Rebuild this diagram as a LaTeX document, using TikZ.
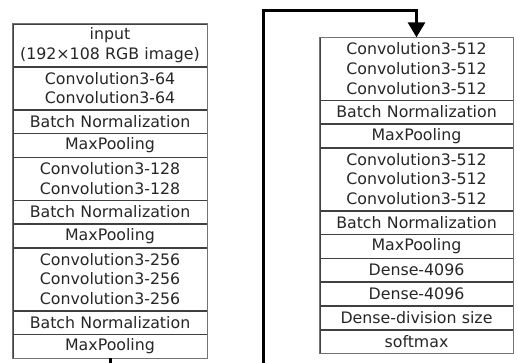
\documentclass[tikz,border=0pt]{standalone}
\usepackage{fontspec}
\setmainfont{DejaVu Sans}
\usetikzlibrary{arrows.meta}
\begin{document}
\begin{tikzpicture}[x=1pt,y=-1pt,
  layer/.style={draw=black!75, line width=0.6pt, inner sep=0pt, anchor=north, align=center,
    font=\fontsize{15.8}{19.6}\selectfont, text=black!85},
  lcol/.style={layer, minimum width=194pt, text width=194pt},
  rcol/.style={layer, minimum width=193pt, text width=193pt},
  one/.style={minimum height=23.2pt},
  two/.style={minimum height=42.4pt},
  three/.style={minimum height=62.2pt},
  outer/.style={draw=black!55, line width=1.1pt},
  conn/.style={line width=3pt, line join=miter, -{Triangle[length=15pt,width=17pt]}}
]
\useasboundingbox (0,0) rectangle (517,362);
% left column
\node[lcol,two]   (l1)  at (110,23.5) {input\\(192×108 RGB image)};
\node[lcol,two]   (l2)  at (l1.south) {Convolution3-64\\Convolution3-64};
\node[lcol,one]   (l3)  at (l2.south) {Batch Normalization};
\node[lcol,one]   (l4)  at (l3.south) {MaxPooling};
\node[lcol,two]   (l5)  at (l4.south) {Convolution3-128\\Convolution3-128};
\node[lcol,one]   (l6)  at (l5.south) {Batch Normalization};
\node[lcol,one]   (l7)  at (l6.south) {MaxPooling};
\node[lcol,three] (l8)  at (l7.south) {Convolution3-256\\Convolution3-256\\Convolution3-256};
\node[lcol,one]   (l9)  at (l8.south) {Batch Normalization};
\node[lcol,one]   (l10) at (l9.south) {MaxPooling};
\draw[outer] (l1.north west) rectangle (l10.south east);
% right column
\node[rcol,three] (r1)  at (416.5,37.3) {Convolution3-512\\Convolution3-512\\Convolution3-512};
\node[rcol,one]   (r2)  at (r1.south) {Batch Normalization};
\node[rcol,one]   (r3)  at (r2.south) {MaxPooling};
\node[rcol,three] (r4)  at (r3.south) {Convolution3-512\\Convolution3-512\\Convolution3-512};
\node[rcol,one]   (r5)  at (r4.south) {Batch Normalization};
\node[rcol,one]   (r6)  at (r5.south) {MaxPooling};
\node[rcol,one]   (r7)  at (r6.south) {Dense-4096};
\node[rcol,one]   (r8)  at (r7.south) {Dense-4096};
\node[rcol,one]   (r9)  at (r8.south) {Dense-division size};
\node[rcol,one]   (r10) at (r9.south) {softmax};
\draw[outer] (r1.north west) rectangle (r10.south east);
% connector (its lower turn lies below the visible area)
\coordinate (ta) at (110,375);
\coordinate (tb) at (263.5,375);
\coordinate (tc) at (263.5,10);
\begin{scope}
\clip (0,0) rectangle (517,362);
\draw[conn] (l10.south) -- (ta) -- (tb) -- (tc) -| (r1.north);
\end{scope}
\end{tikzpicture}
\end{document}
